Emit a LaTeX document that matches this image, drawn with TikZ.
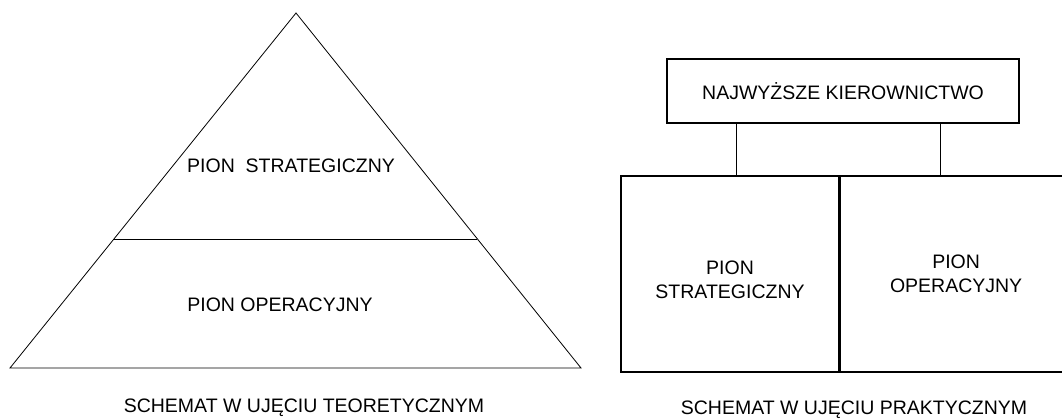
\documentclass[tikz,border=0pt]{standalone}
\usepackage{fontspec}
\setmainfont{Liberation Sans}
\usetikzlibrary{positioning}
\tikzstyle{block} = [rectangle, draw, line width=1.1pt, inner sep=0pt]
\tikzstyle{line} = [draw, line width=0.8pt]
\tikzstyle{words} = [inner sep=0pt, align=center, font=\fontsize{19.5}{23.5}\selectfont]

\begin{document}
\begin{tikzpicture}[x=1pt, y=-1pt]
    \useasboundingbox (0,0) rectangle (1062,419);
    % Theoretical scheme: the pyramid
    \coordinate (apex) at (296,13);
    \coordinate (baseL) at (10,368);
    \coordinate (baseR) at (581,368);
    \path (apex) -- (baseL) coordinate[pos=0.6366] (midL);
    \path (apex) -- (baseR) coordinate[pos=0.6366] (midR);
    \path [line] (apex) -- (baseR) -- (baseL) -- cycle;
    \path [line] (midL) -- (midR);
    \node [words, anchor=base] (strat1) at (291,173) {PION\ \ STRATEGICZNY};
    \node [words, anchor=base] (oper1) at (280,312) {PION OPERACYJNY};
    \node [words, anchor=base] (cap1) at (304,412) {SCHEMAT W UJĘCIU TEORETYCZNYM};

    % Practical scheme: the boxes
    \node [block, words, minimum width=352pt, minimum height=64pt] (top) at (843,91) {NAJWYŻSZE KIEROWNICTWO};
    \node [block, minimum width=218pt, minimum height=196pt] (strat2) at (730,274) {};
    \node [block, minimum width=240pt, minimum height=196pt, right=0pt of strat2] (oper2) {};
    \node [words] (strat2txt) at ([yshift=-6pt]strat2.center) {PION\\STRATEGICZNY};
    \node [words] (oper2txt) at ([xshift=-4pt]oper2.center) {PION\\OPERACYJNY};
    \coordinate (j1) at (736,0);
    \coordinate (j2) at (940,0);
    \path [line] (top.south -| j1) -- (strat2.north -| j1);
    \path [line] (top.south -| j2) -- (oper2.north -| j2);
    \node [words, anchor=base] (cap2) at (854,414) {SCHEMAT W UJĘCIU PRAKTYCZNYM};
\end{tikzpicture}
\end{document}
